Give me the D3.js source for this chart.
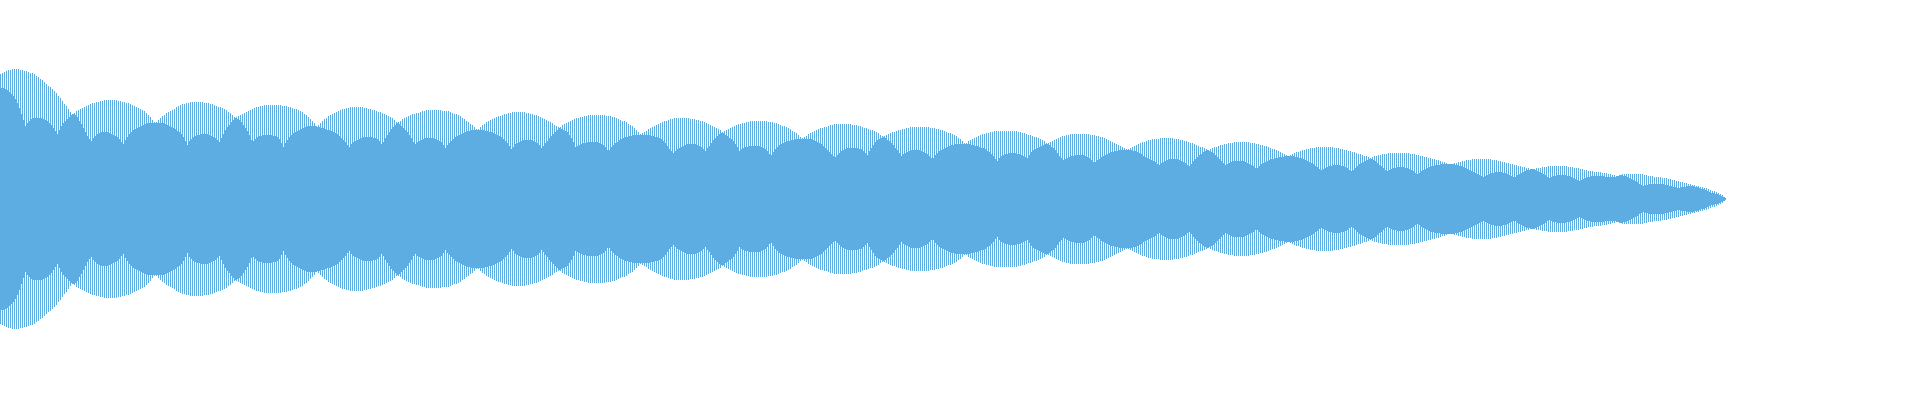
<!DOCTYPE html>
<html><head><meta charset="utf-8">
<script src="https://cdn.jsdelivr.net/npm/d3@7"></script>
<style>html,body{margin:0;padding:0;background:#fff;overflow:hidden}</style>
</head><body><svg id="chart" width="1920" height="400"></svg>
<script>
// amplitude of even samples (x = 0,2,4,...)
const outerAmp = [
125,126,127,128,129,129,130,130,130,130,129,129,128,128,127,126,126,125,123,122,120,119,117,115,113,112,110,108,106,103,101,98,95,93,90,87,85,
86,88,89,90,91,92,93,94,95,96,96,97,97,98,98,99,99,99,99,99,99,99,98,98,97,97,96,96,95,94,93,92,91,90,89,88,86,84,82,79,77,
77,79,81,83,84,86,87,88,89,90,92,93,94,95,95,96,96,97,97,97,97,97,97,97,96,96,96,95,95,94,93,92,92,91,90,89,87,86,84,82,
82,83,84,85,86,87,88,89,90,91,92,92,93,93,94,94,94,94,94,94,94,94,94,93,93,93,92,92,91,90,90,89,88,87,85,84,82,80,78,76,73,
74,76,78,80,81,83,84,85,86,87,88,89,90,90,91,91,92,92,92,92,92,92,92,91,91,90,90,89,89,88,87,87,86,85,84,83,82,81,79,77,
77,78,80,81,82,83,84,85,85,86,86,87,88,88,89,89,89,89,89,89,89,89,88,88,88,88,87,86,85,85,84,83,81,80,78,77,75,74,72,70,
70,72,74,75,77,78,79,80,81,82,83,83,84,85,85,86,86,87,87,87,87,87,87,87,86,86,85,85,84,84,83,82,81,80,79,78,77,76,74,73,72,
72,74,75,76,77,78,79,80,81,81,82,82,83,83,84,84,84,84,84,84,84,84,84,83,83,83,82,82,81,80,79,78,78,77,75,74,73,71,69,67,65,
66,67,68,70,71,72,73,74,75,76,77,78,78,79,80,80,81,81,81,81,81,81,81,81,80,80,80,79,79,78,78,77,76,75,74,73,72,71,70,69,67,
68,69,70,71,72,73,74,75,75,76,76,77,77,78,78,78,78,78,78,78,78,78,77,77,77,76,76,75,74,73,73,72,71,70,68,67,66,64,62,61,
62,63,65,66,67,68,69,70,71,71,72,72,73,74,74,75,75,75,75,75,75,75,75,75,74,74,74,73,73,72,71,71,70,69,69,68,67,66,64,63,
63,64,65,66,67,67,68,69,69,70,70,71,71,72,72,72,72,72,72,72,72,72,72,71,71,71,70,70,69,69,68,67,66,66,65,64,63,61,60,58,56,
56,58,59,60,61,62,63,64,65,65,66,66,67,67,68,68,68,68,68,68,68,68,68,68,68,68,67,67,66,66,65,64,64,63,62,62,61,60,59,58,56,
56,57,58,59,60,61,62,63,63,64,64,65,65,65,65,65,65,65,65,65,65,64,64,64,63,63,62,62,61,60,59,58,57,56,55,54,53,52,51,50,
50,51,52,53,54,55,56,57,57,58,59,59,60,60,60,60,61,61,61,61,61,61,61,60,60,60,59,59,58,58,57,56,56,55,54,53,52,52,51,50,49,
50,51,52,52,53,54,54,55,55,56,56,56,57,57,57,57,57,57,57,57,56,56,56,55,55,54,54,53,53,52,51,50,50,49,48,47,46,45,44,43,
44,45,46,47,47,48,49,49,50,50,51,51,51,52,52,52,52,52,52,52,52,52,51,51,51,50,50,49,49,48,48,47,47,46,45,45,44,43,43,42,41,
42,43,43,44,44,45,45,45,46,46,46,46,46,46,46,46,46,46,46,45,45,45,44,44,43,43,42,42,41,41,40,40,39,39,38,37,37,36,35,35,
35,36,36,37,37,38,38,39,39,39,40,40,40,40,40,40,40,40,40,40,39,39,39,38,38,37,37,36,36,35,35,34,34,33,33,32,32,31,31,30,30,
30,31,31,31,32,32,32,33,33,33,33,33,33,33,33,33,33,32,32,32,31,31,31,30,30,29,29,28,28,28,27,27,27,27,26,26,26,25,25,24,
24,23,23,24,25,25,25,25,25,25,25,25,25,25,25,24,24,23,23,23,22,22,22,22,21,21,21,20,20,19,19,18,18,17,17,16,16,15,15,14,14,13,13,12,12,11,11,10,9,8,8,7,6,5,4,2
];
// amplitude of odd samples (x = 1,3,5,...)
const innerAmp = [
111,111,110,109,107,105,103,100,96,91,85,79,73,76,78,80,81,81,81,81,81,80,79,78,76,74,71,68,65,69,73,76,78,80,82,84,85,
84,82,78,75,71,67,63,60,58,61,63,65,66,67,67,67,67,66,65,64,63,62,60,57,55,59,62,65,67,69,70,71,72,73,74,75,76,76,76,76,76,
76,76,76,76,75,74,73,72,71,70,68,67,65,62,58,54,58,60,62,63,64,64,65,65,65,65,64,63,62,61,59,57,61,65,69,72,74,77,79,81,
80,79,77,74,71,68,64,59,58,60,62,63,63,64,64,64,64,64,63,63,62,60,56,52,56,59,62,64,66,67,68,69,70,71,72,73,73,73,73,73,72,
72,71,71,70,69,69,68,67,66,65,63,61,59,57,54,52,55,57,58,59,60,61,62,62,62,62,62,61,61,60,58,55,57,61,64,67,70,72,74,76,
75,73,71,69,67,64,61,57,55,57,58,59,60,61,61,61,61,61,60,59,58,57,54,51,54,56,58,60,62,63,64,65,66,67,68,68,69,69,69,69,
69,69,69,68,68,67,67,66,65,64,63,62,60,58,56,53,50,52,55,56,57,58,59,59,59,59,59,58,57,56,54,51,53,56,58,61,63,65,67,69,71,
70,69,68,67,64,61,57,52,53,54,55,56,56,57,57,57,57,57,57,56,55,54,52,49,49,52,54,56,57,59,60,61,62,62,63,63,64,64,64,64,
64,64,64,64,64,63,63,62,62,61,60,58,56,53,50,48,46,48,50,51,52,53,54,55,55,55,55,55,54,53,52,50,48,51,53,56,59,61,63,65,66,
66,64,63,61,60,58,55,52,48,50,51,52,52,53,53,53,53,53,53,52,51,50,48,45,44,47,50,52,54,55,56,57,58,58,59,59,60,60,60,60,
60,60,60,60,60,59,58,57,56,55,53,51,49,47,45,43,42,44,46,48,49,50,51,51,51,51,51,51,50,50,48,46,44,48,51,54,57,59,60,61,
62,61,59,58,56,54,51,49,46,43,45,46,47,48,49,49,49,49,49,48,47,46,45,43,41,41,44,46,48,49,50,51,52,53,54,54,55,55,55,55,55,
55,55,55,54,54,53,53,52,51,51,50,48,47,45,43,40,38,41,43,44,45,45,46,46,46,46,45,45,44,43,42,41,44,47,49,50,51,52,53,54,55,
55,54,52,51,49,46,43,41,39,40,41,42,43,43,44,44,44,44,44,43,42,41,39,37,37,39,40,42,43,44,45,46,47,47,48,48,49,49,49,49,
49,49,49,48,48,47,46,45,43,42,41,40,39,38,37,35,34,36,37,38,39,40,40,40,40,40,39,38,37,36,34,33,35,38,40,42,44,45,47,48,49,
48,47,46,44,42,40,38,36,34,35,36,37,38,38,38,38,38,38,37,36,35,34,33,31,31,33,35,36,37,38,39,40,40,41,41,42,42,42,43,43,
43,43,43,42,42,41,41,40,39,38,37,36,35,33,32,30,29,30,31,32,33,33,34,34,34,34,33,33,32,31,29,28,29,31,33,35,36,37,38,39,40,
40,39,38,36,34,33,31,29,28,29,30,31,31,32,32,32,32,31,31,30,29,28,26,25,26,28,29,30,31,32,33,33,34,34,34,35,35,35,35,35,
35,35,34,34,33,33,32,31,30,29,28,27,26,25,24,23,22,23,24,25,26,26,27,27,27,27,26,26,25,24,23,22,22,24,25,26,27,28,29,29,30,
30,29,28,27,26,25,24,22,21,22,23,23,24,24,24,24,24,23,23,22,21,20,19,18,19,20,21,22,22,23,23,23,23,23,23,23,22,22,22,22,
22,22,23,24,24,23,23,22,21,20,19,18,17,15,14,13,14,14,15,15,15,15,15,15,15,15,14,14,13,13,12,12,11,11,12,12,12,13,13,13,13,12,12,11,10,10,9,8,7,6,6,5,5,4,3,2,1
];

// interleave: even sample = outer, odd sample = inner
const samples = [];
outerAmp.forEach((v, k) => {
  samples.push(v);
  if (k < innerAmp.length) samples.push(innerAmp[k]);
});

const svg = d3.select('#chart');
const x = d3.scaleBand().domain(d3.range(samples.length)).range([0, samples.length]).padding(0);
const y = d3.scaleLinear().domain([-140, 140]).range([339, 59]);

svg.append('g')
  .attr('shape-rendering', 'crispEdges')
  .selectAll('rect')
  .data(samples)
  .join('rect')
  .attr('x', (d, i) => x(i))
  .attr('width', x.bandwidth())
  .attr('y', d => y(d))
  .attr('height', d => y(-d) - y(d))
  .attr('fill', '#5dade2');
</script></body></html>
